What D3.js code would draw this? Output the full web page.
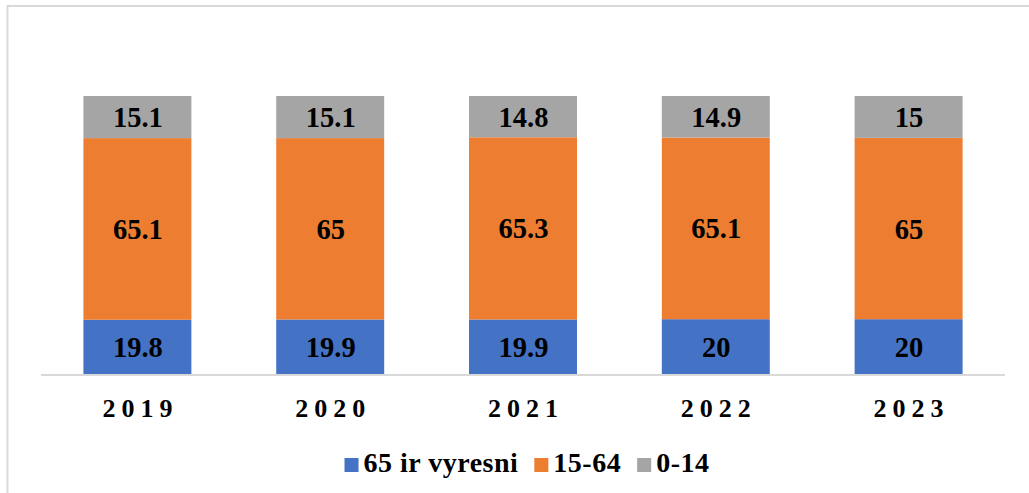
<!DOCTYPE html>
<html>
<head>
<meta charset="utf-8">
<script src="https://cdn.jsdelivr.net/npm/d3@7/dist/d3.min.js"></script>
<style>
  html, body { margin: 0; padding: 0; background: #fff; }
  svg { display: block; }
</style>
</head>
<body>
<svg id="chart" width="1029" height="493"></svg>
<script>
const categories = ["2019", "2020", "2021", "2022", "2023"];
const seriesNames = ["65 ir vyresni", "15-64", "0-14"];
const seniors = [19.8, 19.9, 19.9, 20, 20];
const working = [65.1, 65, 65.3, 65.1, 65];
const children = [15.1, 15.1, 14.8, 14.9, 15];
const colors = ["#4472C4", "#ED7D31", "#A5A5A5"];

const rows = categories.map((c, i) => ({
  year: c, "65 ir vyresni": seniors[i], "15-64": working[i], "0-14": children[i]
}));

const svg = d3.select("#chart");
const W = 1029, H = 493;
const serif = "'Liberation Serif', 'Times New Roman', serif";

// outer chart border (only top and left visible)
svg.append("rect")
  .attr("x", 7.5).attr("y", 6)
  .attr("width", W + 20).attr("height", H + 20)
  .attr("fill", "#fff")
  .attr("stroke", "#d9d9d9").attr("stroke-width", 2);

const x = d3.scaleBand().domain(categories).range([41, 1005])
  .paddingInner(0.44).paddingOuter(0.22);
const y = d3.scaleLinear().domain([0, 100]).range([375, 96]);

const stack = d3.stack().keys(seriesNames)(rows);

const g = svg.append("g");
stack.forEach((layer, li) => {
  const lg = g.append("g").attr("fill", colors[li]);
  lg.selectAll("rect").data(layer).enter().append("rect")
    .attr("x", d => x(d.data.year))
    .attr("width", x.bandwidth())
    .attr("y", d => y(d[1]))
    .attr("height", d => y(d[0]) - y(d[1]));
  g.append("g").selectAll("text").data(layer).enter().append("text")
    .attr("x", d => x(d.data.year) + x.bandwidth() / 2 + 0.5)
    .attr("y", d => (y(d[0]) + y(d[1])) / 2)
    .attr("dy", "0.35em")
    .attr("text-anchor", "middle")
    .attr("font-family", serif)
    .attr("font-weight", "bold")
    .attr("font-size", 28.5)
    .attr("fill", "#000")
    .text(d => String(+(d[1] - d[0]).toFixed(1)));
});

// x axis
const xAxis = d3.axisBottom(x).tickSize(0).tickPadding(0);
const ax = svg.append("g").attr("transform", "translate(0,375)").call(xAxis);
ax.select(".domain").attr("stroke", "#d9d9d9").attr("stroke-width", 2)
  .attr("d", "M41,0H1005");
ax.selectAll(".tick text")
  .attr("y", 0).attr("dy", 0)
  .attr("transform", "translate(3,42)")
  .attr("font-family", serif)
  .attr("font-weight", "bold")
  .attr("font-size", 26)
  .attr("letter-spacing", 6)
  .attr("fill", "#000");

// legend
const leg = svg.append("g");
const items = seriesNames.map((name, i) => {
  const it = leg.append("g");
  it.append("rect").attr("width", 14).attr("height", 14)
    .attr("y", 458).attr("fill", colors[i]);
  const t = it.append("text")
    .attr("x", 19).attr("y", 471.5)
    .attr("font-family", serif)
    .attr("font-weight", "bold")
    .attr("font-size", 28)
    .attr("letter-spacing", 0.5)
    .attr("fill", "#000")
    .text(name);
  return { it, w: 19 + t.node().getComputedTextLength() };
});
const gap = 16;
const total = d3.sum(items, d => d.w) + gap * (items.length - 1);
let cx = 527 - total / 2;
items.forEach(d => { d.it.attr("transform", `translate(${cx},0)`); cx += d.w + gap; });
</script>
</body>
</html>
